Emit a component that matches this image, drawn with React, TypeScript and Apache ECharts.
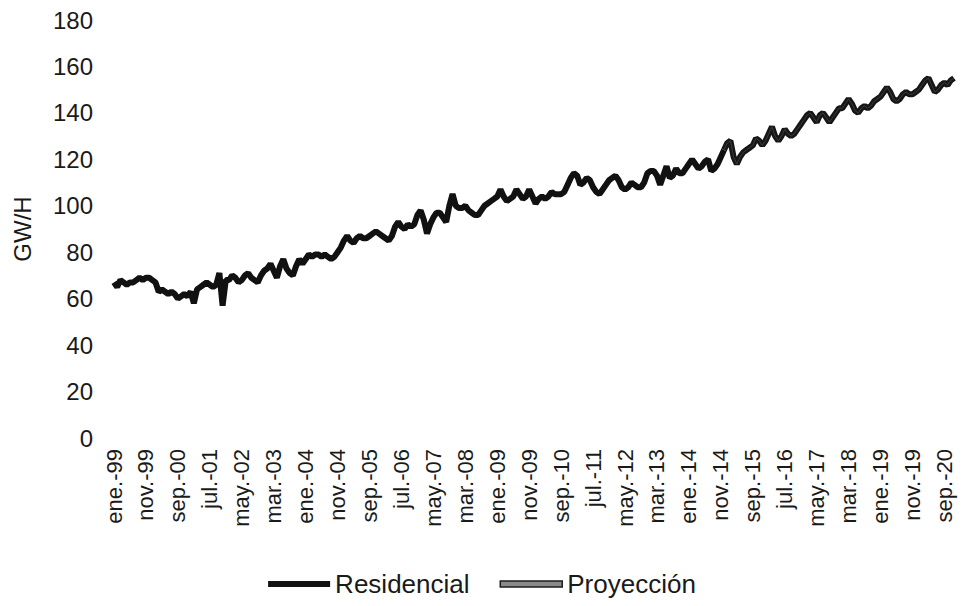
import React, { useEffect, useRef } from "react";
import * as echarts from "echarts";

const monthNames = ["ene.", "feb.", "mar.", "abr.", "may.", "jun.", "jul.", "ago.", "sep.", "oct.", "nov.", "dic."];
const startYear = 1999;
const endYear = 2020;

// Residencial, monthly GW/H, ene-1999 .. dic-2014
const residencial1999 = [67, 65, 68, 67, 66, 67, 67, 68, 69, 68, 69, 69];
const residencial2000 = [68, 67, 63, 64, 63, 62, 63, 62, 60, 61, 62, 61];
const residencial2001 = [63, 58, 64, 65, 66, 67, 66, 65, 66, 71, 57, 68];
const residencial2002 = [68, 70, 69, 67, 68, 70, 71, 69, 68, 67, 70, 72];
const residencial2003 = [73, 75, 72, 69, 74, 77, 73, 71, 70, 74, 77, 75];
const residencial2004 = [77, 79, 78, 79, 79, 78, 79, 78, 77, 78, 80, 82];
const residencial2005 = [85, 87, 85, 84, 86, 87, 86, 86, 87, 88, 89, 88];
const residencial2006 = [87, 86, 85, 87, 91, 93, 91, 90, 92, 91, 92, 96];
const residencial2007 = [98, 94, 88, 92, 95, 97, 97, 95, 93, 100, 105, 100];
const residencial2008 = [99, 99, 100, 98, 97, 96, 96, 98, 100, 101, 102, 103];
const residencial2009 = [104, 107, 104, 102, 103, 104, 107, 105, 103, 104, 107, 104];
const residencial2010 = [101, 103, 104, 103, 104, 106, 105, 105, 105, 106, 109, 112];
const residencial2011 = [114, 113, 109, 110, 112, 111, 108, 106, 105, 107, 109, 111];
const residencial2012 = [112, 113, 111, 108, 107, 108, 110, 109, 108, 108, 110, 114];
const residencial2013 = [115, 115, 113, 109, 113, 117, 112, 113, 116, 114, 114, 116];
const residencial2014 = [118, 120, 118, 116, 117, 119, 120, 115, 116, 118, 121, 124];

// Proyección, monthly GW/H, ene-2015 .. dic-2020
const proyeccion2015 = [127, 128, 121, 118, 121, 123, 124, 125, 126, 129, 128, 126];
const proyeccion2016 = [128, 131, 134, 130, 128, 130, 133, 131, 130, 131, 133, 135];
const proyeccion2017 = [137, 139, 140, 138, 136, 139, 140, 138, 136, 138, 140, 142];
const proyeccion2018 = [142, 144, 146, 144, 141, 140, 142, 143, 142, 143, 145, 146];
const proyeccion2019 = [147, 149, 151, 149, 146, 145, 146, 148, 149, 148, 148, 149];
const proyeccion2020 = [150, 152, 154, 155, 152, 149, 150, 152, 153, 152, 154, 155];

const residencial = [
  ...residencial1999, ...residencial2000, ...residencial2001, ...residencial2002,
  ...residencial2003, ...residencial2004, ...residencial2005, ...residencial2006,
  ...residencial2007, ...residencial2008, ...residencial2009, ...residencial2010,
  ...residencial2011, ...residencial2012, ...residencial2013, ...residencial2014,
];
const proyeccion = [
  ...proyeccion2015, ...proyeccion2016, ...proyeccion2017,
  ...proyeccion2018, ...proyeccion2019, ...proyeccion2020,
];

const categories: string[] = [];
for (let y = startYear; y <= endYear; y++) {
  for (let m = 0; m < 12; m++) {
    categories.push(monthNames[m] + "-" + String(y % 100).padStart(2, "0"));
  }
}

const resData: (number | null)[] = categories.map((_, i) => (i < residencial.length ? residencial[i] : null));
const proData: (number | null)[] = categories.map((_, i) => {
  if (i < residencial.length - 1) return null;
  if (i === residencial.length - 1) return residencial[i];
  return proyeccion[i - residencial.length];
});

const FONT = "'Liberation Sans', Arial, sans-serif";

export default function App() {
  const ref = useRef<HTMLDivElement>(null);
  useEffect(() => {
    if (!ref.current) return;
    const chart = echarts.init(ref.current, undefined, { renderer: "svg" });
    chart.setOption({
      animation: false,
      backgroundColor: "#ffffff",
      grid: { left: 114, right: 10, top: 20, bottom: 168 },
      legend: {
        bottom: 4,
        left: "center",
        itemWidth: 62,
        itemHeight: 6,
        itemGap: 30,
        textStyle: { fontFamily: FONT, fontSize: 26, color: "#1a1a1a" },
        data: [
          { name: "Residencial", icon: "rect", itemStyle: { color: "#111111" } },
          { name: "Proyección", icon: "rect", itemStyle: { color: "#8a8a8a", borderColor: "#1e1e1e", borderWidth: 1.5 } },
        ],
      },
      xAxis: {
        type: "category",
        data: categories,
        boundaryGap: false,
        axisLine: { show: false },
        axisTick: { show: false },
        splitLine: { show: false },
        axisLabel: {
          interval: 9,
          rotate: 90,
          margin: 11,
          fontFamily: FONT,
          fontSize: 22,
          color: "#1a1a1a",
        },
      },
      yAxis: {
        type: "value",
        min: 0,
        max: 180,
        interval: 20,
        name: "GW/H",
        nameLocation: "middle",
        nameGap: 80,
        nameTextStyle: { fontFamily: FONT, fontSize: 24, color: "#1a1a1a" },
        axisLine: { show: false },
        axisTick: { show: false },
        splitLine: { show: false },
        axisLabel: { margin: 21, fontFamily: FONT, fontSize: 24, color: "#1a1a1a" },
      },
      series: [
        {
          name: "Residencial",
          type: "line",
          data: resData,
          showSymbol: false,
          symbol: "none",
          lineStyle: { color: "#111111", width: 6 },
          itemStyle: { color: "#111111" },
          z: 3,
        },
        {
          name: "Proyección",
          type: "line",
          data: proData,
          showSymbol: false,
          symbol: "none",
          lineStyle: { color: "#161616", width: 6 },
          itemStyle: { color: "#8a8a8a" },
          z: 2,
        },
        {
          name: "proyeccion-inner",
          type: "line",
          data: proData,
          showSymbol: false,
          symbol: "none",
          silent: true,
          lineStyle: { color: "#3c3c3c", width: 1 },
          z: 4,
        },
      ],
    });
    return () => chart.dispose();
  }, []);
  return (
    <div
      ref={ref}
      style={{ position: "fixed", left: 0, top: 0, width: 964, height: 606 }}
    />
  );
}
